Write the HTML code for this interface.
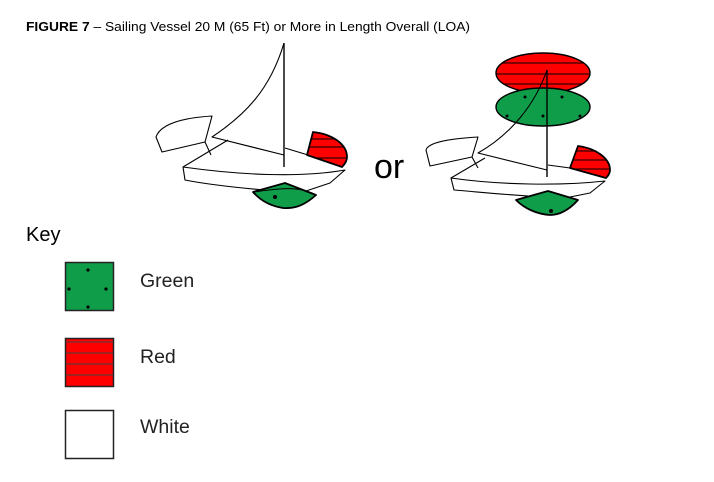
<!DOCTYPE html>
<html><head><style>
body{margin:0;background:#fff;width:714px;height:482px;overflow:hidden}
svg{display:block}
</style></head><body>
<svg width="714" height="482" viewBox="0 0 714 482" xmlns="http://www.w3.org/2000/svg">
<defs>
<clipPath id="c1"><path d="M307,155 L313,132 C332,134 347,144 347,157 C347,161 345,164 342,167 Z"/></clipPath>
<clipPath id="c2"><path d="M570,168 L578,146 C595,148 610,158 610,170 C610,173 608,176 606,178 Z"/></clipPath>
<clipPath id="c3"><ellipse cx="543" cy="73" rx="47" ry="20"/></clipPath>
</defs>
<text x="26" y="31" font-family="Liberation Sans, Arial, sans-serif" font-size="13.3" textLength="444" lengthAdjust="spacingAndGlyphs"><tspan font-weight="bold">FIGURE 7</tspan> – Sailing Vessel 20 M (65 Ft) or More in Length Overall (LOA)</text>

<g fill="none" stroke="#000" stroke-width="1.1" stroke-linejoin="round">
<!-- Boat 1 -->
<path d="M156,137 C160,125 180,118 212,116 L205,142 L162,152 Z" fill="#fff"/>
<path d="M205,142 L211,155"/>
<path d="M284,43 C270,90 245,115 212,137 L284,155"/>
<path d="M183,167 L228,140"/>
<path d="M285,148 L308,155"/>
<path d="M183,167 C240,175 300,178 345,170 L330,183 L300,193 C260,190 215,186 185,180 Z" fill="#fff"/>
<path d="M307,155 L313,132 C332,134 347,144 347,157 C347,161 345,164 342,167 Z" fill="#f00"/>
<path clip-path="url(#c1)" d="M300,139 L350,139 M300,147 L350,147 M300,158 L350,158" stroke-width="0.9"/>
<path d="M307,155 L313,132 C332,134 347,144 347,157 C347,161 345,164 342,167 Z" stroke-width="1.8"/>
<path d="M253,192 L285,183 L316,195 C305,205 295,209 283,208 C270,206 260,200 253,192 Z" fill="#0f9d4a" stroke-width="1.8"/>
<circle cx="275" cy="197" r="1.5" fill="#000"/>
<path d="M284,43 L284,167" stroke-width="1.4"/>
<path d="M254,192 C280,188 300,186 316,195" stroke-width="0.9"/>

<!-- Boat 2 -->
<ellipse cx="543" cy="73" rx="47" ry="20" fill="#f00"/>
<path clip-path="url(#c3)" d="M490,63 L600,63 M490,74 L600,74 M490,84 L600,84" stroke-width="0.9"/>
<ellipse cx="543" cy="73" rx="47" ry="20" stroke-width="1.4"/>
<ellipse cx="543" cy="107" rx="47" ry="19" fill="#0f9d4a" stroke-width="1.4"/>
<g fill="#000" stroke="none"><circle cx="525" cy="97" r="1.5"/><circle cx="562" cy="97" r="1.5"/><circle cx="507" cy="116" r="1.5"/><circle cx="543" cy="116" r="1.5"/><circle cx="580" cy="116" r="1.5"/></g>
<path d="M426,150 C428,143 445,139 478,137 L472,157 L430,166 Z" fill="#fff"/>
<path d="M472,157 L478,168"/>
<path d="M547,70 C535,105 510,135 478,153 L547,170"/>
<path d="M451,178 L485,158"/>
<path d="M548,165 L570,168"/>
<path d="M451,178 C500,185 560,186 605,181 L590,193 L565,198 C530,197 490,193 454,190 Z" fill="#fff"/>
<path d="M570,168 L578,146 C595,148 610,158 610,170 C610,173 608,176 606,178 Z" fill="#f00"/>
<path clip-path="url(#c2)" d="M565,151 L615,151 M565,160 L615,160 M565,169 L615,169" stroke-width="0.9"/>
<path d="M570,168 L578,146 C595,148 610,158 610,170 C610,173 608,176 606,178 Z" stroke-width="1.8"/>
<path d="M516,200 L548,191 L578,200 C568,211 558,215 550,215 C536,214 524,208 516,200 Z" fill="#0f9d4a" stroke-width="1.8"/>
<circle cx="551" cy="211" r="1.5" fill="#000"/>
<path d="M547,70 L547,177" stroke-width="1.4"/>
</g>

<text x="374" y="178" font-family="Liberation Sans, sans-serif" font-size="34">or</text>

<text x="26" y="241" font-family="Liberation Sans, sans-serif" font-size="20">Key</text>
<rect x="65.5" y="262.5" width="48" height="48" fill="#0f9d4a" stroke="#222" stroke-width="1.5"/>
<g fill="#000"><circle cx="88" cy="270" r="1.6"/><circle cx="69" cy="289" r="1.6"/><circle cx="106" cy="289" r="1.6"/><circle cx="88" cy="307" r="1.6"/></g>
<rect x="65.5" y="338.5" width="48" height="48" fill="#f00" stroke="#222" stroke-width="1.5"/>
<path d="M66,342 L113,342 M66,353 L113,353 M66,364 L113,364 M66,375 L113,375" stroke="#444" stroke-width="1"/>
<rect x="65.5" y="410.5" width="48" height="48" fill="#fff" stroke="#222" stroke-width="1.5"/>
<g font-family="Liberation Sans, sans-serif" font-size="19.5" fill="#222">
<text x="140" y="287">Green</text>
<text x="140" y="363">Red</text>
<text x="140" y="433">White</text>
</g>
</svg>
</body></html>
